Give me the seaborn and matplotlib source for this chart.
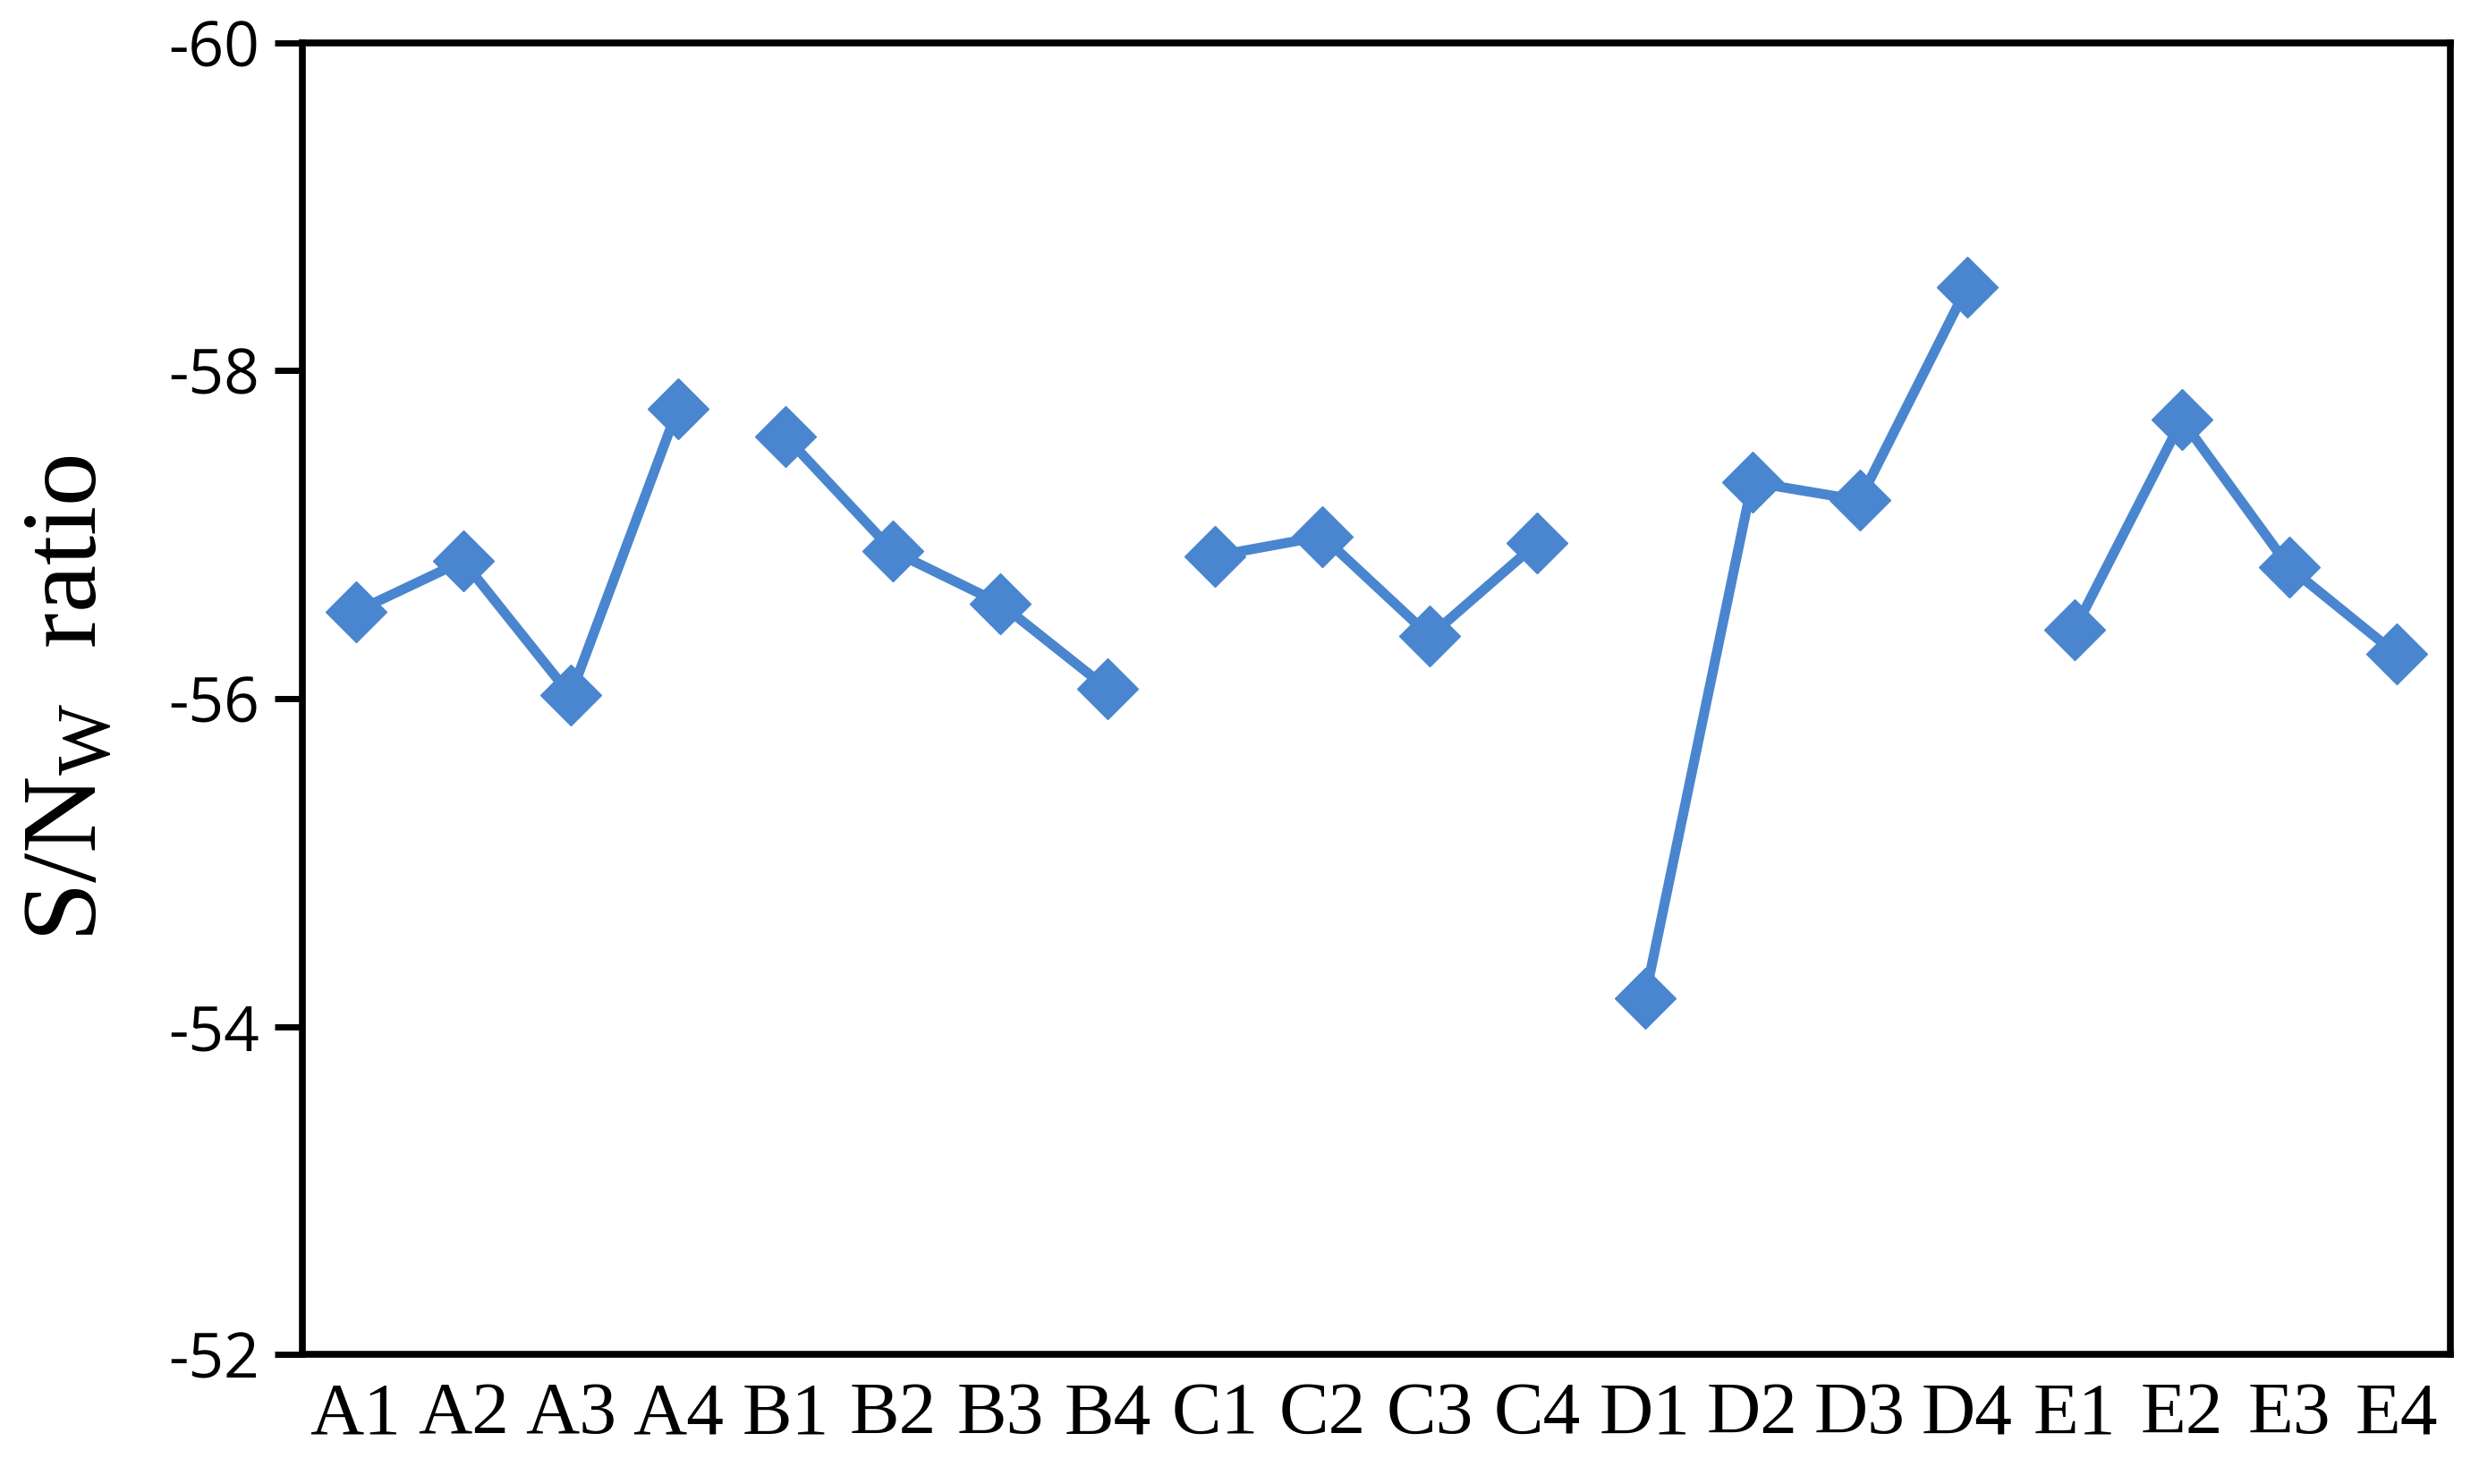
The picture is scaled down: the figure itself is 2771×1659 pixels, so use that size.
import matplotlib
matplotlib.use("Agg")
import matplotlib.pyplot as plt
import seaborn as sns
import pandas as pd
import numpy as np

# Data
labels = ['A1', 'A2', 'A3', 'A4', 'B1', 'B2', 'B3', 'B4', 'C1', 'C2',
          'C3', 'C4', 'D1', 'D2', 'D3', 'D4', 'E1', 'E2', 'E3', 'E4']
groups = ['A'] * 4 + ['B'] * 4 + ['C'] * 4 + ['D'] * 4 + ['E'] * 4
sn_ratio = [-56.53, -56.84, -56.02, -57.77,
            -57.60, -56.90, -56.58, -56.06,
            -56.87, -56.99, -56.38, -56.95,
            -54.17, -57.32, -57.21, -58.51,
            -56.42, -57.70, -56.80, -56.27]
y_ticks = [-52, -54, -56, -58, -60]

df = pd.DataFrame({'level': labels, 'group': groups, 'sn': sn_ratio})
df['pos'] = np.arange(len(df))

sns.set_style('white')
plt.rcParams['mathtext.fontset'] = 'custom'
plt.rcParams['mathtext.rm'] = 'Liberation Serif'
plt.rcParams['mathtext.it'] = 'Liberation Serif:italic'
blue = '#4A86CF'

fig = plt.figure(figsize=(27.71, 16.59), dpi=100)
ax = fig.add_axes([0.1218, 0.0873, 0.8667, 0.8839])

sns.lineplot(data=df, x='pos', y='sn', units='group', estimator=None,
             color=blue, linewidth=8, marker='D', markersize=35,
             markeredgecolor=blue, markeredgewidth=1, ax=ax)

ax.set_xlim(-0.5, len(labels) - 0.5)
ax.set_ylim(-52, -60)
ax.set_yticks(y_ticks)
ax.set_yticklabels([str(v) for v in y_ticks], family='Open Sans', fontsize=50, color='black')
ax.set_xticks(df['pos'])
ax.set_xticklabels(labels, family='Liberation Serif', fontsize=60, color='black')
ax.set_xticks(np.arange(0.5, len(labels) - 0.5, 1), minor=True)

ax.tick_params(axis='x', which='major', length=0, pad=22)
ax.tick_params(axis='x', which='minor', direction='in', length=22, width=5, color='black')
ax.tick_params(axis='y', which='major', direction='out', length=22, width=5,
               color='black', pad=12, left=True)

for sp in ax.spines.values():
    sp.set_color('black')
    sp.set_linewidth(5.5)

ax.set_xlabel('')
ax.set_ylabel(r'S/N$_{\mathrm{W}}$  ratio', family='Liberation Serif', fontsize=86,
              labelpad=40, color='black')

fig.savefig('out.png', dpi=100, facecolor='white')
